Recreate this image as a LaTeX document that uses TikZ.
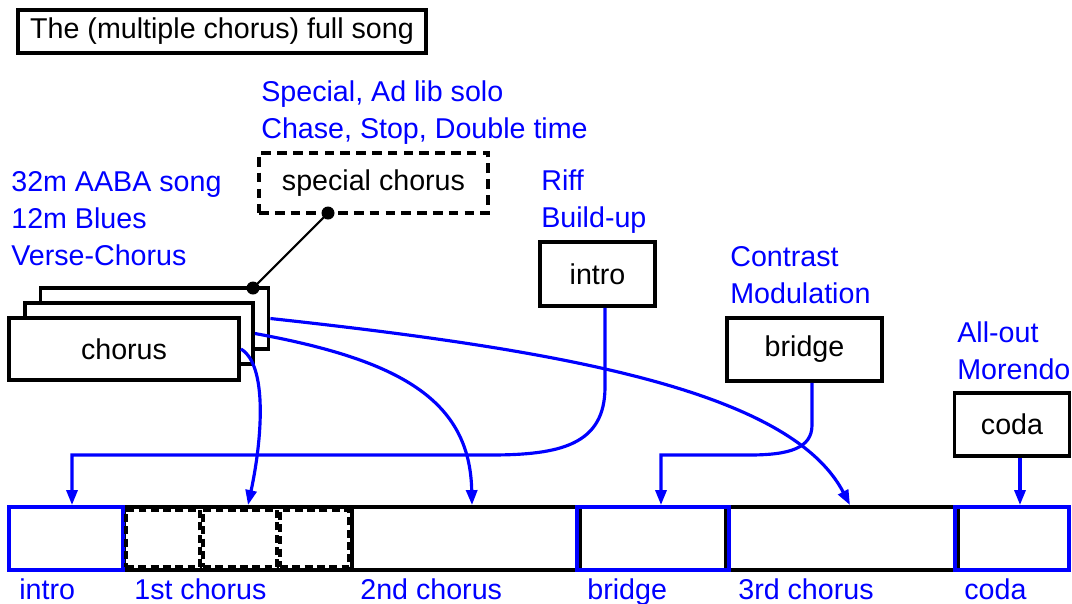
\documentclass[tikz,border=0pt]{standalone}
\usepackage{fontspec}
\setmainfont{Liberation Sans}
\usetikzlibrary{arrows.meta}
\definecolor{songblue}{RGB}{0,0,255}
\newcommand{\songsize}{\fontsize{16.3}{21}\selectfont}
\tikzset{
  box/.style={draw,line width=2.2pt,fill=white,inner sep=0pt,font=\songsize},
  spbox/.style={box,dash pattern=on 5.5pt off 3.5pt,line width=1.8pt},
  note/.style={anchor=base west,inner sep=0pt,align=left,text=songblue,font=\songsize},
  seg/.style={draw,line width=2.2pt,inner sep=0pt,minimum height=1.26cm},
  partseg/.style={seg,draw=songblue},
  subseg/.style={draw,dash pattern=on 4.5pt off 2.5pt,line width=1.8pt,inner sep=0pt,minimum height=1.14cm},
  flow/.style={draw=songblue,line width=1.8pt,-{Triangle[length=0.3cm,width=0.22cm]}},
}

\begin{document}
\begin{tikzpicture}[x=0.02cm,y=-0.02cm]
  \useasboundingbox (0,0) rectangle (1072,603);
  \node[box,minimum width=8.16cm,minimum height=0.86cm] (title) at (222,31.5) {The (multiple chorus) full song};
  \node[note] (spnote) at (261,138) {Special, Ad lib solo\\Chase, Stop, Double time};
  \node[note] (formnote) at (11,265) {32m AABA song\\12m Blues\\Verse-Chorus};
  \node[note] (intronote) at (541,227) {Riff\\Build-up};
  \node[note] (bridgenote) at (730,303) {Contrast\\Modulation};
  \node[note] (codanote) at (957,379) {All-out\\Morendo};
  \node[spbox,minimum width=4.58cm,minimum height=1.2cm] (special) at (373.5,183) {special chorus};
  \node[box,minimum width=4.56cm,minimum height=1.22cm] (ch3) at (154.5,318.5) {};
  \node[box,minimum width=4.56cm,minimum height=1.22cm] (ch2) at (139,333.5) {};
  \node[box,minimum width=4.6cm,minimum height=1.24cm] (ch1) at (124,349) {chorus};
  \node[box,minimum width=2.3cm,minimum height=1.28cm] (intro) at (597.5,274) {intro};
  \node[box,minimum width=3.1cm,minimum height=1.26cm] (bridge) at (804.5,349.5) {bridge};
  \node[box,minimum width=2.3cm,minimum height=1.26cm] (coda) at (1012,424.5) {coda};
  \node[seg,minimum width=4.56cm] (c1seg) at (238,538.5) {};
  \node[seg,minimum width=4.56cm] (c2seg) at (466,538.5) {};
  \node[seg,minimum width=4.64cm] (c3seg) at (842,538.5) {};
  \node[partseg,minimum width=2.28cm] (iseg) at (66,538.5) {};
  \node[partseg,minimum width=3.04cm] (bseg) at (653,538.5) {};
  \node[partseg,minimum width=2.28cm] (cseg) at (1012,538.5) {};
  \node[subseg,minimum width=1.48cm] (sub1) at (163,538.5) {};
  \node[subseg,minimum width=1.48cm] (sub2) at (240,538.5) {};
  \node[subseg,minimum width=1.38cm] (sub3) at (314.5,538.5) {};
  \node[note] (ilab) at (19,599) {intro};
  \node[note] (c1lab) at (134,599) {1st chorus};
  \node[note] (c2lab) at (360,599) {2nd chorus};
  \node[note] (blab) at (587,599) {bridge};
  \node[note] (c3lab) at (738,599) {3rd chorus};
  \node[note] (clab) at (964,599) {coda};
  \coordinate (pinA) at (253,288);
  \coordinate (pinB) at (328,213);
  \draw[line width=1.2pt] (pinA) -- (pinB);
  \fill (pinA) circle (0.13cm);
  \fill (pinB) circle (0.13cm);
  \draw[flow] (ch1.east) .. controls (268,365) and (262,440) .. ([xshift=0.2cm]c1seg.north);
  \draw[flow] (ch2.east) .. controls (400,360) and (470,400) .. ([xshift=0.12cm]c2seg.north);
  \draw[flow] (ch3.east) .. controls (560,350) and (790,390) .. ([xshift=0.16cm]c3seg.north);
  \draw[flow] ([xshift=0.15cm]intro.south) -- (605,387) .. controls (605,445) and (560,455) .. (490,455) -- (72,455) -- ([xshift=0.12cm]iseg.north);
  \draw[flow] ([xshift=0.15cm]bridge.south) -- (812,425) .. controls (812,448) and (790,455) .. (749,455) -- (661,455) -- ([xshift=0.16cm]bseg.north);
  \draw[flow] ([xshift=0.16cm]coda.south) -- ([xshift=0.16cm]cseg.north);
\end{tikzpicture}
\end{document}
